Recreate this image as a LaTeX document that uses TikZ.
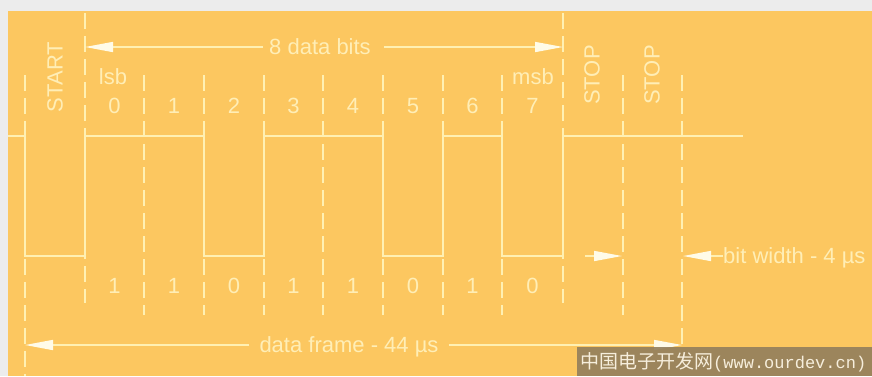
\documentclass[tikz,border=0pt]{standalone}
\usepackage{fontspec}
\setmainfont{Liberation Sans}
\newfontfamily\cjkf{Noto Sans CJK SC}
\newfontfamily\monof{Liberation Mono}
\usetikzlibrary{arrows.meta}
\definecolor{bgy}{RGB}{252,199,96}
\definecolor{gry}{RGB}{236,236,236}
\definecolor{lnc}{RGB}{255,240,178}
\definecolor{txc}{RGB}{255,238,182}
\definecolor{arc}{RGB}{255,251,232}
\definecolor{wmb}{RGB}{146,126,92}
\definecolor{wmt}{RGB}{246,238,220}
\begin{document}
\begin{tikzpicture}[x=1pt,y=-1pt,
  sig/.style={draw=lnc,line width=1.8pt},
  gridln/.style={draw=lnc,line width=1.4pt,dash pattern=on 16pt off 7pt},
  lbl/.style={text=txc,font=\fontsize{22}{22}\selectfont,inner sep=0pt,text depth=0pt},
  vlbl/.style={lbl,rotate=90},
  dimtip/.style={draw=lnc,line width=1.5pt,-{Triangle[length=28pt,width=10pt,color=arc]}},
]
\useasboundingbox (0,0) rectangle (872,376);
\clip (0,0) rectangle (872,376);
\fill[gry] (0,0) rectangle (872,376);
\fill[bgy] (8,11) rectangle (872,376);

% bit boundary lines
\foreach \xx/\ya/\yb in {25/75/376, 85/13/303, 144/75/315, 204/75/315, 264/75/315,
  323/75/315, 383/75/315, 443/75/315, 502/75/315, 563/13/303, 623/75/315, 682/75/350}
  \draw[gridln] (\xx,\ya) -- (\xx,\yb);

% signal
\draw[sig] (8,136) -- (25,136) -- (25,256) -- (85,256) -- (85,136) -- (204,136)
  -- (204,256) -- (264,256) -- (264,136) -- (383,136) -- (383,256) -- (443,256)
  -- (443,136) -- (502,136) -- (502,256) -- (563,256) -- (563,136) -- (743,136);

% labels
\node[vlbl] (start) at (55,77) {START};
\node[vlbl] (stop1) at (592,75) {STOP};
\node[vlbl] (stop2) at (652,75) {STOP};
\node[lbl] (lsb) at (113,77) {lsb};
\node[lbl] (msb) at (533,77) {msb};
\foreach \xx/\n [count=\i] in {114.5/0,174/1,234/2,293.5/3,353/4,413/5,472.5/6,532.5/7}
  \node[lbl] (n\i) at (\xx,106) {\n};
\foreach \xx/\v [count=\i] in {114.5/1,174/1,234/0,293.5/1,353/1,413/0,472.5/1,532.5/0}
  \node[lbl] (v\i) at (\xx,286) {\v};

% 8 data bits
\node[lbl,inner xsep=6pt] (t8) at (320,47) {8 data bits};
\coordinate (a8l) at (85,47);
\coordinate (a8r) at (563,47);
\draw[dimtip] (t8.west) -- (a8l);
\draw[dimtip] ([xshift=7pt]t8.east) -- (a8r);

% data frame
\node[lbl,inner xsep=10pt] (tdf) at (349,345) {data frame - 44 µs};
\coordinate (dfl) at (25,345);
\coordinate (dfr) at (682,345);
\draw[dimtip] (tdf.west) -- (dfl);
\draw[dimtip] (tdf.east) -- (dfr);

% bit width
\node[lbl,anchor=west] (tbw) at (723,256) {bit width - 4 µs};
\coordinate (bwa) at (585,256);
\coordinate (bwb) at (622,256);
\coordinate (bwc) at (683,256);
\draw[dimtip] (bwa) -- (bwb);
\draw[dimtip] (tbw.west) -- (bwc);

% watermark
\fill[wmb,fill opacity=0.9] (577,347) rectangle (872,376);
\node[anchor=west,inner sep=0pt,text=wmt] (wm) at (580,362)
  {{\cjkf\fontsize{19}{19}\selectfont 中国电子开发网}{\monof\fontsize{17}{17}\selectfont (www.ourdev.cn)}};
\end{tikzpicture}
\end{document}
